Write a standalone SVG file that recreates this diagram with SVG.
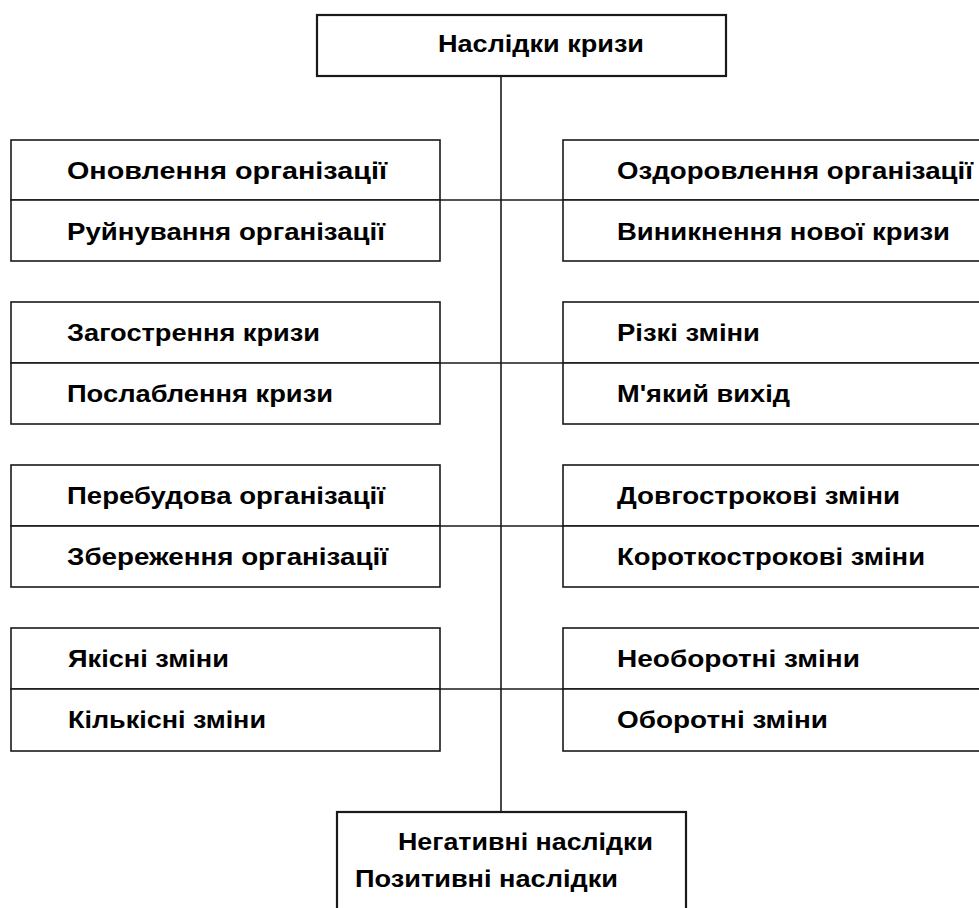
<svg xmlns="http://www.w3.org/2000/svg" width="979" height="908" viewBox="0 0 979 908">
<style>
.box{fill:#fff;stroke:#1a1a1a;stroke-width:1.6}
.main{fill:#fff;stroke:#1a1a1a;stroke-width:2.2}
.t{font-family:"Liberation Sans",Arial,sans-serif;font-weight:bold;font-size:23px;fill:#000}
.c{stroke:#1a1a1a;stroke-width:1.6;fill:none}
</style>
<rect width="979" height="908" fill="#fff"/>
<g id="connectors">
<line class="c" x1="501" y1="76" x2="501" y2="812"/>
<line class="c" x1="440" y1="200" x2="563" y2="200"/>
<line class="c" x1="440" y1="363" x2="563" y2="363"/>
<line class="c" x1="440" y1="526" x2="563" y2="526"/>
<line class="c" x1="440" y1="689" x2="563" y2="689"/>
</g>
<g id="top">
<rect class="main" x="317" y="15" width="409" height="61"/>
<text class="t" x="438" y="52" textLength="206" lengthAdjust="spacingAndGlyphs">Наслідки кризи</text>
</g>
<g id="left1">
<rect class="box" x="11" y="140" width="429" height="60"/>
<rect class="box" x="11" y="200" width="429" height="61"/>
<text class="t" x="67" y="179" textLength="320" lengthAdjust="spacingAndGlyphs">Оновлення організації</text>
<text class="t" x="67" y="240" textLength="318" lengthAdjust="spacingAndGlyphs">Руйнування організації</text>
</g>
<g id="right1">
<rect class="box" x="563" y="140" width="430" height="60"/>
<rect class="box" x="563" y="200" width="430" height="61"/>
<text class="t" x="617" y="179" textLength="356" lengthAdjust="spacingAndGlyphs">Оздоровлення організації</text>
<text class="t" x="617" y="240" textLength="333" lengthAdjust="spacingAndGlyphs">Виникнення нової кризи</text>
</g>
<g id="left2">
<rect class="box" x="11" y="302" width="429" height="61"/>
<rect class="box" x="11" y="363" width="429" height="61"/>
<text class="t" x="67" y="341" textLength="253" lengthAdjust="spacingAndGlyphs">Загострення кризи</text>
<text class="t" x="67" y="402" textLength="266" lengthAdjust="spacingAndGlyphs">Послаблення кризи</text>
</g>
<g id="right2">
<rect class="box" x="563" y="302" width="430" height="61"/>
<rect class="box" x="563" y="363" width="430" height="61"/>
<text class="t" x="617" y="341" textLength="143" lengthAdjust="spacingAndGlyphs">Різкі зміни</text>
<text class="t" x="617" y="402" textLength="173" lengthAdjust="spacingAndGlyphs">М'який вихід</text>
</g>
<g id="left3">
<rect class="box" x="11" y="465" width="429" height="61"/>
<rect class="box" x="11" y="526" width="429" height="61"/>
<text class="t" x="67" y="504" textLength="318" lengthAdjust="spacingAndGlyphs">Перебудова організації</text>
<text class="t" x="67" y="565" textLength="321" lengthAdjust="spacingAndGlyphs">Збереження організації</text>
</g>
<g id="right3">
<rect class="box" x="563" y="465" width="430" height="61"/>
<rect class="box" x="563" y="526" width="430" height="61"/>
<text class="t" x="617" y="504" textLength="283" lengthAdjust="spacingAndGlyphs">Довгострокові зміни</text>
<text class="t" x="617" y="565" textLength="308" lengthAdjust="spacingAndGlyphs">Короткострокові зміни</text>
</g>
<g id="left4">
<rect class="box" x="11" y="628" width="429" height="61"/>
<rect class="box" x="11" y="689" width="429" height="62"/>
<text class="t" x="68" y="667" textLength="161" lengthAdjust="spacingAndGlyphs">Якісні зміни</text>
<text class="t" x="68" y="728" textLength="198" lengthAdjust="spacingAndGlyphs">Кількісні зміни</text>
</g>
<g id="right4">
<rect class="box" x="563" y="628" width="430" height="61"/>
<rect class="box" x="563" y="689" width="430" height="62"/>
<text class="t" x="617" y="667" textLength="243" lengthAdjust="spacingAndGlyphs">Необоротні зміни</text>
<text class="t" x="617" y="728" textLength="211" lengthAdjust="spacingAndGlyphs">Оборотні зміни</text>
</g>
<g id="bottom">
<rect class="main" x="337" y="812" width="349" height="110"/>
<text class="t" x="398" y="850" textLength="255" lengthAdjust="spacingAndGlyphs">Негативні наслідки</text>
<text class="t" x="355" y="887" textLength="263" lengthAdjust="spacingAndGlyphs">Позитивні наслідки</text>
</g>
</svg>
